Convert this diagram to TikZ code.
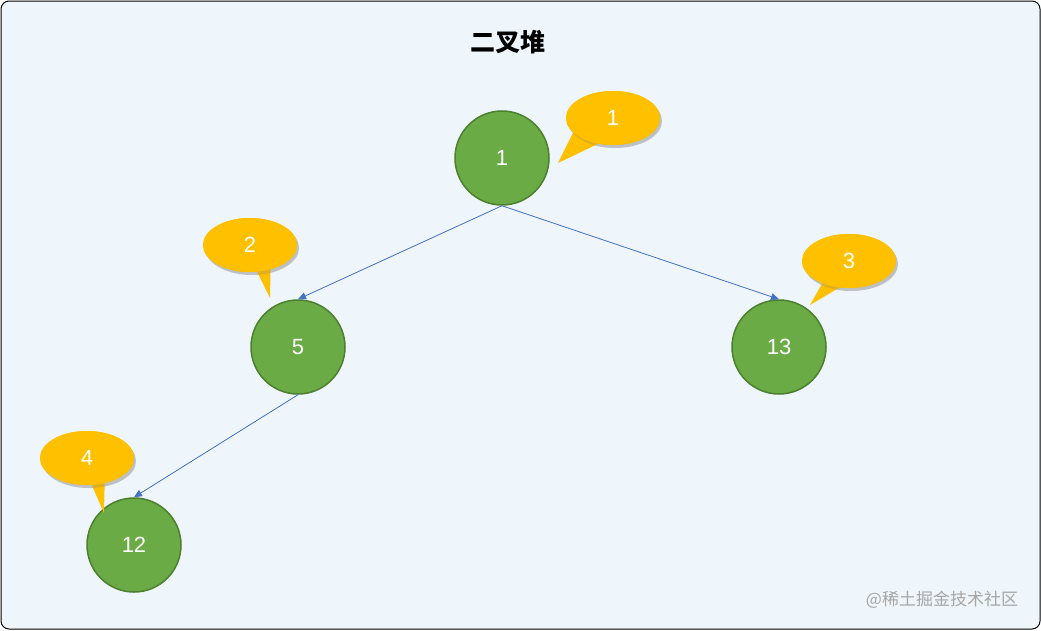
\documentclass[tikz,border=0pt]{standalone}
\usepackage{fontspec}
\setmainfont{Liberation Sans}
\newfontfamily\cjk{Noto Sans CJK SC}
\usetikzlibrary{shapes.geometric,arrows.meta,shadows}
\definecolor{bg}{HTML}{EEF5FB}
\definecolor{ngreen}{HTML}{6AAB46}
\definecolor{nborder}{HTML}{4C7F2E}
\definecolor{callout}{HTML}{FFC000}
\definecolor{edge}{HTML}{4472C4}
\tikzset{
 heap/.style={circle,draw=nborder,line width=1.5pt,fill=ngreen,minimum size=94pt,inner sep=0pt,text=white,font=\fontsize{22}{24}\selectfont},
 bubble/.style={ellipse,fill=callout,minimum width=94pt,minimum height=54pt,inner sep=0pt,text=white,font=\fontsize{22}{24}\selectfont,drop shadow={opacity=0.25,shadow xshift=2pt,shadow yshift=-3pt}},
 tail/.style={fill=callout},
 link/.style={draw=edge,line width=0.8pt,-{Triangle[length=8pt,width=7pt]}}
}
\begin{document}
\begin{tikzpicture}[x=1pt,y=-1pt]
\draw[fill=bg,draw=black,line width=1pt,rounded corners=8pt] (1,1) rectangle (1040,629);
\useasboundingbox (0,0) rectangle (1041,630);
\node[font=\cjk\bfseries\fontsize{25}{28}\selectfont] (title) at (508,42) {二叉堆};
\node[heap] (n1) at (502,158) {1};
\node[heap] (n5) at (298,347) {5};
\node[heap] (n13) at (779,347) {13};
\node[heap] (n12) at (134,545) {12};
\draw[link] (n1.south) -- (n5.north);
\draw[link] (n1.south) -- (n13.north);
\draw[link] (n5.south) -- (n12.north);
\coordinate (t1) at (558,163);
\coordinate (t2) at (270,298);
\coordinate (t3) at (810,305);
\coordinate (t4) at (104,513);
\node[bubble] (b1) at (613,118) {};
\fill[tail] (b1.200) -- (t1) -- (b1.240) -- cycle;
\node[bubble,drop shadow={opacity=0}] at (b1) {1};
\node[bubble] (b2) at (250,245) {};
\fill[tail] (b2.285) -- (t2) -- (b2.310) -- cycle;
\node[bubble,drop shadow={opacity=0}] at (b2) {2};
\node[bubble] (b3) at (849,261) {};
\fill[tail] (b3.220) -- (t3) -- (b3.250) -- cycle;
\node[bubble,drop shadow={opacity=0}] at (b3) {3};
\node[bubble] (b4) at (87,458) {};
\fill[tail] (b4.280) -- (t4) -- (b4.305) -- cycle;
\node[bubble,drop shadow={opacity=0}] at (b4) {4};
\node[text=gray!70,font=\cjk\fontsize{17}{20}\selectfont] (wm) at (942,600) {@稀土掘金技术社区};
\end{tikzpicture}
\end{document}
